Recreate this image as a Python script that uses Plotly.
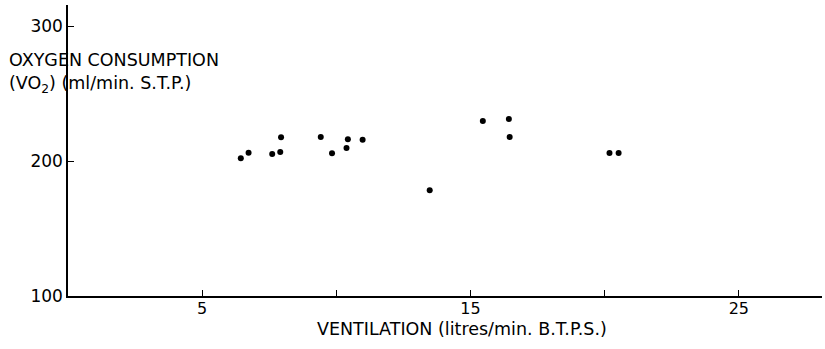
import plotly.graph_objects as go

# Ventilation (litres/min B.T.P.S.) vs oxygen consumption (ml/min S.T.P.)
ventilation = [6.44, 6.73, 7.61, 7.91, 7.94, 9.42, 9.84, 10.38, 10.43, 10.98,
               13.48, 15.46, 16.43, 16.46, 20.18, 20.52]
vo2 = [202.0, 206.1, 205.2, 206.7, 217.6, 217.8, 205.7, 209.6, 216.1, 215.8,
       178.3, 229.6, 231.1, 217.8, 205.9, 205.9]

x_ticks = [5, 15, 25]
x_tick_labels = ["5", "15", "25"]
x_minor_ticks = [10, 20]
y_ticks = [100, 200, 300]
y_tick_labels = ["100", "200", "300"]

FONT = "DejaVu Sans"
W, H = 825, 349
L, R, T, B = 68, 3, 5, 53
PW, PH = W - L - R, H - T - B

fig = go.Figure()
fig.add_trace(go.Scatter(
    x=ventilation, y=vo2, mode="markers",
    marker=dict(color="black", size=6),
    hoverinfo="x+y", showlegend=False,
))

fig.update_layout(
    width=W, height=H,
    margin=dict(l=L, r=R, t=T, b=B, autoexpand=False),
    paper_bgcolor="white", plot_bgcolor="white",
    font=dict(family=FONT, color="black", size=17),
    xaxis=dict(
        range=[0, 28.1], showgrid=False, zeroline=False, automargin=False,
        showline=True, linecolor="black", linewidth=1.5,
        tickmode="array", tickvals=x_ticks, ticktext=x_tick_labels,
        ticks="inside", ticklen=6, tickwidth=1.2, tickcolor="black",
        tickfont=dict(size=16), ticklabelstandoff=-3,
        minor=dict(tickvals=x_minor_ticks, ticks="inside", ticklen=6,
                   tickwidth=1.2, tickcolor="black", showgrid=False),
    ),
    yaxis=dict(
        range=[100, 315.6], showgrid=False, zeroline=False, automargin=False,
        showline=True, linecolor="black", linewidth=1.5,
        tickmode="array", tickvals=y_ticks, ticktext=y_tick_labels,
        ticks="inside", ticklen=6, tickwidth=1.2, tickcolor="black",
        tickfont=dict(size=17),
    ),
    annotations=[
        dict(text="OXYGEN CONSUMPTION", xref="paper", yref="paper",
             x=(7 - L) / PW, y=(H - B - 60) / PH, xanchor="left", yanchor="middle",
             showarrow=False, font=dict(size=17.5, family=FONT)),
        dict(text="(VO<sub>2</sub>) (ml/min. S.T.P.)", xref="paper", yref="paper",
             x=(7 - L) / PW, y=(H - B - 84) / PH, xanchor="left", yanchor="middle",
             showarrow=False, font=dict(size=17.5, family=FONT)),
        dict(text="VENTILATION (litres/min. B.T.P.S.)", xref="paper", yref="paper",
             x=(462 - L) / PW, y=(H - B - 329) / PH, xanchor="center", yanchor="middle",
             showarrow=False, font=dict(size=17.5, family=FONT)),
    ],
)

fig.write_html("out.html", config={"displayModeBar": False},
               post_script="document.body.style.margin='0';")
